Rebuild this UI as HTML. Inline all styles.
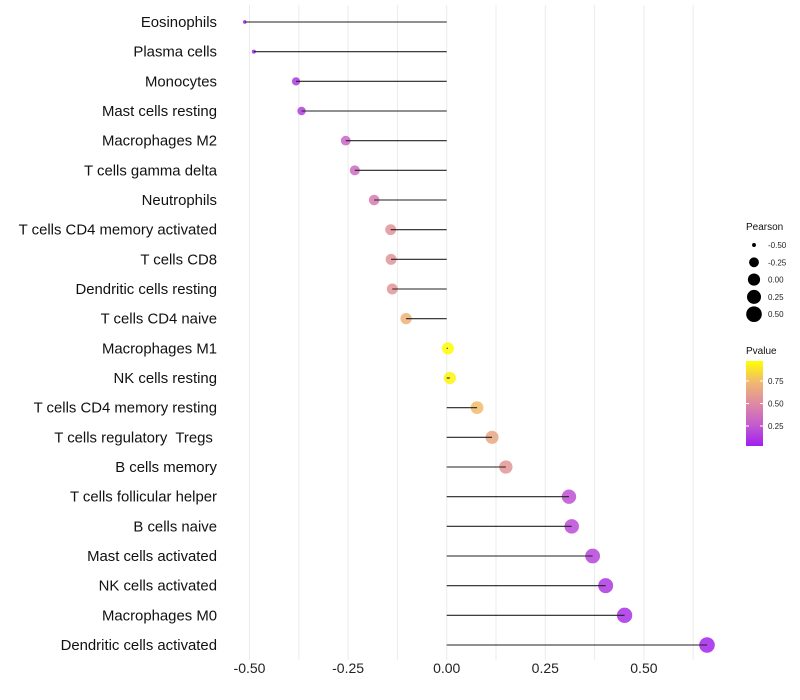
<!DOCTYPE html>
<html><head><meta charset="utf-8"><style>
body{margin:0;background:#fff;}
svg{display:block;font-family:"Liberation Sans",sans-serif;}
text{white-space:pre;}
</style></head><body>
<svg id="chart" width="800" height="700"></svg>
<script>
const categories=["Eosinophils","Plasma cells","Monocytes","Mast cells resting","Macrophages M2","T cells gamma delta","Neutrophils","T cells CD4 memory activated","T cells CD8","Dendritic cells resting","T cells CD4 naive","Macrophages M1","NK cells resting","T cells CD4 memory resting","T cells regulatory  Tregs ","B cells memory","T cells follicular helper","B cells naive","Mast cells activated","NK cells activated","Macrophages M0","Dendritic cells activated"];
const pearson=[-0.512,-0.489,-0.382,-0.368,-0.256,-0.233,-0.184,-0.142,-0.141,-0.138,-0.103,0.003,0.008,0.077,0.115,0.15,0.31,0.317,0.37,0.403,0.451,0.66];
const pvalue=[0.02,0.05,0.1,0.12,0.3,0.33,0.42,0.55,0.55,0.57,0.72,0.99,0.97,0.76,0.65,0.56,0.2,0.18,0.15,0.1,0.07,0.02];
const xTicks=[-0.5,-0.25,0,0.25,0.5];
const xTickLabels=["-0.50","-0.25","0.00","0.25","0.50"];
const sizeLegend=[-0.5,-0.25,0,0.25,0.5];
const sizeLegendLabels=["-0.50","-0.25","0.00","0.25","0.50"];
const colorTicks=[0.25,0.5,0.75];
const colorTickLabels=["0.25","0.50","0.75"];

const NS="http://www.w3.org/2000/svg";
const svg=document.getElementById('chart');
function mk(t,a,p){const e=document.createElementNS(NS,t);for(const k in a)e.setAttribute(k,a[k]);(p||svg).appendChild(e);return e;}
const x=v=>446.7+v*394.4;
const y=i=>22+i*(623/21);
function r(v){ // radius scale: area grows with value
  const a=Math.max(3,(v+0.52)*40+3);
  return Math.min(7.8,Math.sqrt(a)*1.0+ (v>-0.45?1.2:0));
}
const stops=[[0,[160,32,240]],[0.25,[196,92,205]],[0.5,[222,138,163]],[0.75,[241,184,112]],[1,[255,255,0]]];
function col(p){for(let i=1;i<stops.length;i++){if(p<=stops[i][0]){const a=stops[i-1],b=stops[i],t=(p-a[0])/(b[0]-a[0]);return 'rgb('+a[1].map((c,j)=>Math.round(c+(b[1][j]-c)*t)).join(',')+')';}}return 'rgb(255,255,0)';}

for(let k=-4;k<=5;k++){const v=k*0.125;const g=mk('line',{x1:x(v),x2:x(v),y1:5,y2:660,stroke:'#ebebeb','stroke-width':1});

}
xTicks.forEach((v,i)=>{const t=mk('text',{x:x(v),y:673,'text-anchor':'middle','font-size':14,fill:'#222'});t.textContent=xTickLabels[i];

});

categories.forEach((c,i)=>{
 const t=mk('text',{x:217,y:y(i)+5,'text-anchor':'end','font-size':14.9,fill:'#111'});t.textContent=c;
 
 
 const d=mk('circle',{cx:x(pearson[i]),cy:y(i),r:r(pearson[i]),fill:col(pvalue[i]),'fill-opacity':0.85});
 
 
 const l=mk('line',{x1:x(0),x2:x(pearson[i]),y1:y(i),y2:y(i),stroke:'#222','stroke-width':1.1});
 
 
});

const lt=mk('text',{x:746,y:230,'font-size':10,fill:'#111'});lt.textContent='Pearson';


sizeLegend.forEach((v,i)=>{const yy=245+i*17.3;
 const c=mk('circle',{cx:754,cy:yy,r:r(v),fill:'#000'});
 
 
 const t=mk('text',{x:768,y:yy+3,'font-size':8,fill:'#222'});t.textContent=sizeLegendLabels[i];
 
 });

const ct=mk('text',{x:746,y:354,'font-size':10,fill:'#111'});ct.textContent='Pvalue';


const cy=p=>448.5-p*90;
const defs=mk('defs',{});const lg=mk('linearGradient',{id:'cg',x1:0,y1:1,x2:0,y2:0},defs);
stops.forEach(s=>mk('stop',{offset:s[0],'stop-color':'rgb('+s[1].join(',')+')'},lg));
const bar=mk('rect',{x:746,y:361,width:17,height:85,fill:'url(#cg)'});


colorTicks.forEach((p,i)=>{mk('line',{x1:746,x2:749,y1:cy(p),y2:cy(p),stroke:'#fff'});mk('line',{x1:760,x2:763,y1:cy(p),y2:cy(p),stroke:'#fff'});
 const t=mk('text',{x:768,y:cy(p)+3,'font-size':8,fill:'#222'});t.textContent=colorTickLabels[i];
 
 });
</script>
</body></html>
